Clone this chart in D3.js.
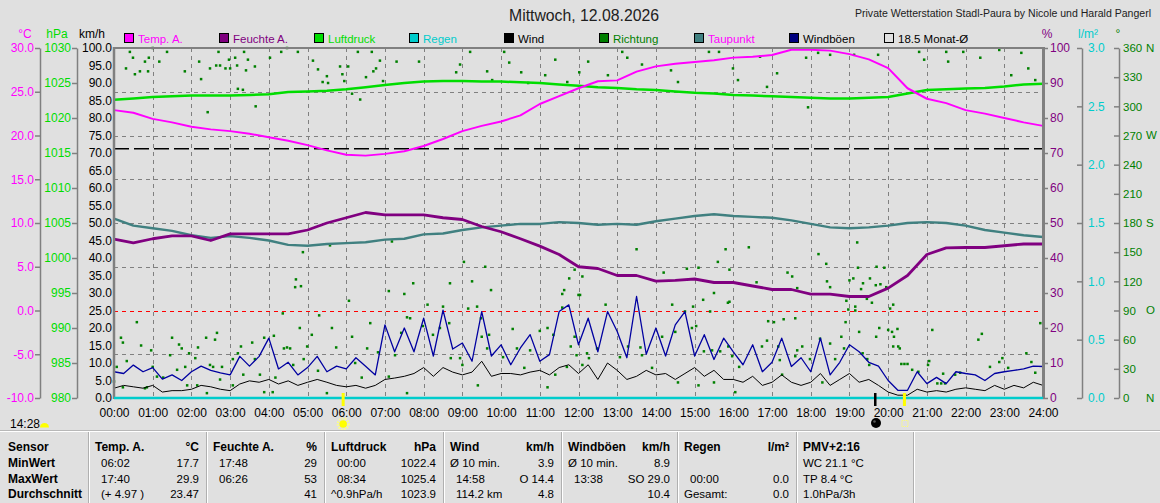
<!DOCTYPE html>
<html>
<head>
<meta charset="utf-8">
<script src="https://cdn.jsdelivr.net/npm/d3@7"></script>
<style>
    body { margin: 0; background: #e0e0e0; }
    svg { display: block; font-family: "Liberation Sans", Arial, sans-serif; }
</style>
</head>
<body>
<div id="chart"></div>
<script>
// ---- data ----
const hoursHalf = d3.range(0, 24.01, 0.5);       // every 30 min
const hoursQuarter = d3.range(0, 24.001, 0.25);  // every 15 min

const temperature = [
    22.9, 22.6, 21.9, 21.5, 21.0, 20.7, 20.5, 20.2, 19.8, 19.4,
    18.9, 18.3, 17.8, 17.7, 17.9, 18.2, 18.8, 19.6, 20.5, 21.1,
    21.6, 22.3, 23.6, 24.5, 25.4, 26.2, 26.3, 27.3, 27.9, 28.2,
    28.4, 28.6, 28.9, 29.0, 29.2, 29.8, 29.8, 29.7, 29.3, 28.7,
    27.7, 25.4, 24.2, 23.7, 22.9, 22.5, 22.0, 21.5, 21.1
];
const humidity = [
    45.4, 44.3, 45.5, 46.3, 46.3, 45.0, 46.9, 46.9, 46.9, 46.9,
    48.0, 50.0, 51.5, 53.0, 52.3, 52.3, 52.3, 51.5, 51.0, 49.0,
    47.5, 45.5, 43.4, 41.0, 37.5, 37.0, 35.0, 35.0, 33.4, 33.6,
    34.0, 33.0, 33.0, 32.0, 31.0, 31.0, 29.7, 29.7, 29.0, 29.0,
    31.4, 35.0, 41.0, 42.9, 43.0, 43.0, 43.5, 44.0, 44.0
];
const pressure = [
    1022.6, 1022.8, 1023.0, 1023.1, 1023.2, 1023.2, 1023.2, 1023.3, 1023.4, 1023.7,
    1023.8, 1023.9, 1024.1, 1024.4, 1024.7, 1025.0, 1025.2, 1025.3, 1025.3, 1025.2,
    1025.2, 1025.1, 1025.0, 1024.8, 1024.6, 1024.4, 1024.3, 1024.1, 1024.0, 1023.8,
    1023.6, 1023.5, 1023.3, 1023.2, 1023.1, 1023.0, 1022.9, 1022.8, 1022.8, 1022.9,
    1023.0, 1023.5, 1024.0, 1024.1, 1024.2, 1024.3, 1024.5, 1024.8, 1024.9
];
const dewpoint = [
    10.5, 9.7, 9.4, 9.1, 8.6, 8.3, 8.5, 8.3, 8.0, 7.5,
    7.4, 7.6, 7.7, 7.8, 8.1, 8.2, 8.7, 8.8, 9.2, 9.5,
    9.7, 9.9, 9.9, 10.1, 10.0, 9.8, 9.9, 9.8, 10.2, 10.5,
    10.8, 11.0, 10.8, 10.7, 10.6, 10.3, 9.9, 9.5, 9.4, 9.5,
    9.7, 10.0, 10.1, 10.0, 9.7, 9.2, 8.9, 8.6, 8.4
];
const wind = [
    2.8, 3.6, 3.2, 2.8,  3.6, 1.7, 2.1, 2.1,  2.5, 3.6, 3.2, 2.5,  2.1, 4.0, 4.9, 4.5,
    5.3, 4.0, 4.9, 3.6,  4.5, 5.3, 4.5, 3.6,  3.2, 3.6, 2.8, 3.6,  5.3, 5.7, 6.2, 7.0,
    8.7, 6.2, 8.7, 7.4,  6.6, 7.4, 10.5, 6.2, 7.0, 7.0, 6.6, 7.4,  7.9, 6.6, 8.7, 9.5,
    7.0, 9.5, 5.3, 10.0, 7.9, 5.3, 6.2, 7.9,  6.6, 7.0, 5.3, 7.0,  8.7, 6.2, 7.9, 5.3,
    5.3, 4.5, 6.2, 3.6,  4.5, 6.6, 4.5, 3.6,  4.5, 7.0, 3.6, 5.3,  7.0, 4.5, 5.3, 3.6,
    1.7, 0.8, 0.8, 2.5,  1.7, 2.1, 1.7, 2.5,  2.9, 2.5, 2.1, 3.6,  2.5, 3.6, 2.9, 4.5,
    3.6
];
const gusts = [
    7.5, 7.0, 9.4, 7.5,  8.7, 5.4, 6.6, 5.0,  7.5, 9.1, 7.9, 7.2,  6.6, 11.9, 9.1, 11.9,
    17.1, 8.3, 10.2, 6.6, 8.7, 11.9, 7.5, 9.1, 8.3, 11.5, 9.1, 6.6, 20.9, 13.2, 20.0, 13.2,
    22.8, 12.0, 25.1, 14.0, 15.7, 10.5, 24.7, 12.0, 15.2, 9.5, 14.3, 18.1, 10.5, 12.4, 24.7, 26.6,
    15.2, 22.8, 13.2, 24.7, 19.0, 11.5, 29.0, 12.5, 20.0, 12.0, 20.9, 24.7, 12.0, 18.1, 11.0, 17.1,
    13.2, 9.5, 15.2, 7.5, 10.2, 17.1, 9.0, 11.5, 7.5, 17.1, 6.6, 10.2, 15.2, 13.2, 10.2, 9.1,
    5.0, 2.2, 2.2, 7.5,  4.1, 5.9, 4.1, 7.5,  7.0, 6.6, 5.0, 7.0,  7.5, 7.9, 8.3, 9.1,
    9.0
];
const rainHours = [0, 6, 12, 18, 24];
const rain = [0.0, 0.0, 0.0, 0.0, 0.0];

// wind direction samples: [hour, degrees]
const direction = [
    [0.41,356],[0.31,339],[0.49,350],[0.54,333],[0.67,336],[0.80,346],[0.90,350],[0.88,336],[1.00,360],[1.17,346],
    [1.37,356],[1.83,336],[2.20,346],[2.25,328],[2.42,294],[2.48,339],[2.64,342],[2.74,342],[2.70,356],[2.88,339],
    [2.97,348],[3.00,339],[3.13,350],[3.18,342],[3.20,318],[3.33,317],[3.36,356],[3.41,337],[3.46,348],[3.66,300],
    [3.64,341],[4.03,350],[4.32,356],[4.47,360],[4.75,356],[5.14,347],[5.27,338],[5.39,325],[5.50,331],[5.53,324],
    [5.84,341],[5.90,333],[5.95,326],[6.05,341],[6.15,313],[6.30,356],[6.36,307],[6.51,330],[6.66,356],[6.70,336],
    [6.77,339],[6.87,347],[6.95,326],[7.30,346],[7.88,346],[8.94,343],[9.20,356],[8.84,335],[9.64,336],[9.77,327],
    [10.08,356],[10.21,345],[10.52,335],[10.70,324],[11.14,332],[11.40,348],[11.71,325],[12.02,335],[12.25,346],[12.76,332],
    [13.13,356],[13.26,350],[13.64,343],[14.39,337],[14.57,325],[15.37,356],[15.63,356],[15.99,339],[16.12,327],[16.69,351],
    [16.87,320],[17.13,334],[17.88,350],[17.93,299],[18.19,355],[18.50,353],[19.12,353],[19.74,353],[20.80,356],[20.93,348],
    [21.50,356],[21.55,346],[21.94,356],[22.38,350],[22.87,358],[23.18,332],[23.44,355],[23.62,339],[23.80,327],
    [4.88,150],[4.70,122],[4.68,114],[4.83,115],[4.36,87],[5.30,85],[5.58,157],[6.07,100],[7.18,161],[7.10,110],
    [7.50,107],[7.73,118],[8.10,96],[8.50,94],[8.68,118],[9.04,140],[9.25,120],[9.48,82],[9.59,135],[9.74,111],
    [11.58,107],[11.63,111],[11.76,123],[11.90,132],[12.10,125],[12.00,106],
    [13.50,153],[15.80,153],[16.40,155],[15.60,140],[18.20,148],[18.40,138],[19.20,160],[14.20,129],[14.80,133],[15.10,134],
    [15.90,132],[17.40,129],[17.52,125],[16.60,119],[18.42,120],[19.00,121],[19.10,123],[19.22,134],[19.53,123],[19.70,135],
    [19.90,134],[19.68,116],[19.80,117],[19.35,118],[19.30,112],[19.95,114],[20.13,96],[20.05,92],[15.50,108],[15.22,101],
    [14.42,96],[15.86,98],[17.65,113],[18.50,114],[18.92,100],[19.45,102],[19.58,98],[19.15,94],[18.97,91],
    [0.18,62],[0.23,57],[0.59,78],[0.70,54],[0.33,38],[0.23,11],[0.07,32],[0.85,11],[0.96,49],[1.00,32],
    [1.50,62],[1.45,44],[1.68,55],[1.75,51],[1.84,32],[1.94,46],[2.17,52],[2.10,41],[2.38,62],[2.61,60],
    [2.66,67],[2.48,34],[2.40,5],[2.79,32],[3.20,46],[3.28,53],[3.07,40],[3.57,57],[3.64,40],[3.88,62],
    [4.13,64],[4.39,51],[4.47,52],[4.55,51],[4.80,72],[4.99,53],[4.90,40],[5.11,65],[5.63,72],[5.74,52],
    [6.15,63],[6.54,51],[6.62,77],[6.82,47],[7.42,67],[7.57,83],[7.65,82],[7.98,74],[8.24,65],[8.42,72],
    [8.66,77],[9.15,92],[9.38,94],[9.50,63],[9.69,65],[9.64,51],[10.05,42],[10.30,71],[10.41,51],[10.75,49],
    [11.00,69],[11.20,72],[11.35,65],[11.58,93],[11.80,53],[11.90,63],[11.95,44],[11.70,32],[11.40,24],[11.20,11],
    [10.60,31],[9.40,13],[9.00,34],[8.70,41],[8.94,41],[7.57,5],[7.10,22],[7.26,44],[6.40,21],[6.23,36],
    [5.50,5],[5.27,28],[4.63,34],[4.17,21],[3.88,6],[4.10,6],[3.77,24],[3.34,24],[3.07,13],[2.74,19],
    [2.56,32],[2.15,13],[1.89,13],[1.63,29],[1.27,21],[1.11,22],[0.80,10],[0.00,17],
    [12.04,106],[12.70,96],[12.27,41],[12.48,51],[12.22,46],[12.10,34],[13.07,42],[13.28,53],[13.60,52],[13.64,44],
    [13.90,31],[14.16,63],[14.50,68],[14.75,89],[14.96,94],[14.93,72],[15.04,74],[15.24,48],[15.40,89],[15.45,49],
    [15.66,48],[15.87,53],[15.90,99],[15.97,43],[16.15,32],[16.05,6],[15.50,16],[15.10,13],[14.57,16],[16.74,53],
    [16.87,59],[17.05,78],[16.90,79],[17.16,53],[17.20,39],[17.26,24],[17.30,81],[17.60,82],[17.60,43],[17.65,49],
    [17.78,53],[17.98,40],[18.24,61],[18.30,16],[18.50,56],[18.63,40],[18.79,63],[18.86,51],[18.90,78],[19.15,90],
    [19.25,68],[19.34,46],[19.46,40],[19.51,34],[19.69,63],[19.77,72],[20.00,70],[20.10,68],[20.15,63],[20.24,71],
    [20.13,53],[20.26,53],[20.30,51],[20.34,35],[20.42,35],[20.50,35],[20.78,27],[20.62,29],[21.03,34],[21.06,38],
    [21.14,70],[21.27,15],[21.37,15],[21.47,15],[21.42,25],[21.73,24],[21.86,26],[22.33,60],[22.42,66],[22.63,32],
    [22.95,41],[22.87,37],[23.10,31],[23.57,46],[23.70,37],[23.93,77],[23.80,26]
];

const monthAverage = 18.5;   // °C
const frostLine = 0;         // °C
const sunrise = 5.92, sunset = 20.42, moonEvent = 19.66;
const dayLength = "14:28";

const legendNames = ["Temp. A.", "Feuchte A.", "Luftdruck", "Regen", "Wind", "Richtung", "Taupunkt", "Windböen", "18.5 Monat-Ø"];
const legendFill = ["#ff00ff", "#800080", "#00dd00", "#00cccc", "#000000", "#008000", "#408080", "#000080", "#e0e0e0"];
const legendText = ["#ff00ff", "#800080", "#00dd00", "#00cccc", "#000000", "#008000", "#ff00ff", "#000000", "#000000"];

const tempTicks = d3.range(-10, 30.1, 5);
const pressureTicks = d3.range(980, 1030.1, 5);
const speedTicks = d3.range(0, 100.1, 5);
const percentTicks = d3.range(0, 100.1, 10);
const rainTicks = [0, 0.5, 1.0, 1.5, 2.0, 2.5, 3.0];
const degreeTicks = d3.range(0, 360.1, 30);
const compass = [[0, "N"], [90, "O"], [180, "S"], [270, "W"], [360, "N"]];

const rowLabels = ["MinWert", "MaxWert", "Durchschnitt"];
const tableHeads = ["Temp. A.", "Feuchte A.", "Luftdruck", "Wind", "Windböen", "Regen", "PMV+2:16"];
const tableUnits = ["°C", "%", "hPa", "km/h", "km/h", "l/m²", ""];
const tableLeft = [
    ["06:02", "17:40", "(+ 4.97 )"],
    ["17:48", "06:26", ""],
    ["00:00", "08:34", "^0.9hPa/h"],
    ["Ø 10 min.", "14:58", "114.2 km"],
    ["Ø 10 min.", "13:38", ""],
    ["", "00:00", "Gesamt:"],
    ["WC 21.1 °C", "TP 8.4 °C", "1.0hPa/3h"]
];
const tableRight = [
    ["17.7", "29.9", "23.47"],
    ["29", "53", "41"],
    ["1022.4", "1025.4", "1023.9"],
    ["3.9", "O 14.4", "4.8"],
    ["8.9", "SO 29.0", "10.4"],
    ["", "0.0", "0.0"],
    ["", "", ""]
];

// ---- layout ----
const WIDTH = 1160, HEIGHT = 503;
const LEFT = 114, RIGHT = 1043, TOP = 48, BOTTOM = 398;
const GRID = "#808080";

const svg = d3.select("#chart").append("svg")
    .attr("width", WIDTH)
    .attr("height", HEIGHT);

svg.append("rect").attr("width", WIDTH).attr("height", HEIGHT).attr("fill", "#e0e0e0");

const x = d3.scaleLinear().domain([0, 24]).range([LEFT, RIGHT]);
const yTemp = d3.scaleLinear().domain([-10, 30]).range([BOTTOM, TOP]);
const yPress = d3.scaleLinear().domain([980, 1030]).range([BOTTOM, TOP]);
const ySpeed = d3.scaleLinear().domain([0, 100]).range([BOTTOM, TOP]);
const yHum = d3.scaleLinear().domain([0, 100]).range([BOTTOM, TOP]);
const yRain = d3.scaleLinear().domain([0, 3]).range([BOTTOM, TOP]);
const yDir = d3.scaleLinear().domain([0, 360]).range([BOTTOM, TOP]);

// ---- titles ----
svg.append("text")
    .attr("x", 509).attr("y", 21)
    .attr("font-size", 16).attr("fill", "#202020")
    .attr("textLength", 150).attr("lengthAdjust", "spacingAndGlyphs")
    .text("Mittwoch, 12.08.2026");

svg.append("text")
    .attr("x", 855).attr("y", 17)
    .attr("font-size", 10).attr("fill", "#202020")
    .attr("textLength", 296).attr("lengthAdjust", "spacingAndGlyphs")
    .text("Private Wetterstation Stadl-Paura by Nicole und Harald Pangerl");

// ---- legend ----
const legend = svg.append("g").attr("font-size", 11.5);
legendNames.forEach((name, i) => {
    const lx = 124 + i * 95;
    legend.append("rect")
        .attr("x", lx + 0.5).attr("y", 33.5)
        .attr("width", 9).attr("height", 9)
        .attr("fill", legendFill[i]).attr("stroke", "#000");
    legend.append("text")
        .attr("x", lx + 14).attr("y", 42.5)
        .attr("fill", legendText[i])
        .text(name);
});

// ---- grid ----
const grid = svg.append("g");
d3.range(1, 24).forEach(h => {
    grid.append("line")
        .attr("x1", Math.round(x(h)) + 0.5).attr("x2", Math.round(x(h)) + 0.5)
        .attr("y1", TOP).attr("y2", BOTTOM)
        .attr("stroke", GRID).attr("stroke-dasharray", "4,4");
});
tempTicks.filter(t => t > -10 && t < 30).forEach(t => {
    grid.append("line")
        .attr("x1", LEFT).attr("x2", RIGHT)
        .attr("y1", Math.round(yTemp(t)) + 0.5).attr("y2", Math.round(yTemp(t)) + 0.5)
        .attr("stroke", t === frostLine ? "#ff0000" : GRID)
        .attr("stroke-dasharray", "4,4");
});
grid.append("line")
    .attr("x1", LEFT).attr("x2", RIGHT)
    .attr("y1", yTemp(monthAverage)).attr("y2", yTemp(monthAverage))
    .attr("stroke", "#000").attr("stroke-width", 1.5)
    .attr("stroke-dasharray", "15,5");

// ---- wind direction dots ----
svg.append("g").selectAll("rect")
    .data(direction)
    .enter()
    .append("rect")
    .attr("x", d => x(d[0]) - 1.25)
    .attr("y", d => yDir(d[1]) - 1.25)
    .attr("width", 2.5).attr("height", 2.5)
    .attr("fill", "#008000");

// ---- series ----
function drawLine(values, times, yScale, color, width, curve) {
    const line = d3.line()
        .x((d, i) => x(times[i]))
        .y(d => yScale(d))
        .curve(curve || d3.curveLinear);
    svg.append("path")
        .datum(values)
        .attr("d", line)
        .attr("fill", "none")
        .attr("stroke", color)
        .attr("stroke-width", width)
        .attr("stroke-linejoin", "round");
}

drawLine(wind, hoursQuarter, ySpeed, "#000000", 1);
drawLine(gusts, hoursQuarter, ySpeed, "#0000a0", 1.3);
drawLine(dewpoint, hoursHalf, yTemp, "#408080", 2.5);
drawLine(humidity, hoursHalf, yHum, "#800080", 2.8);
drawLine(pressure, hoursHalf, yPress, "#00dd00", 2.5);
drawLine(temperature, hoursHalf, yTemp, "#ff00ff", 2);

// ---- frame ----
svg.append("line").attr("x1", LEFT).attr("x2", RIGHT).attr("y1", TOP).attr("y2", TOP)
    .attr("stroke", GRID).attr("stroke-width", 2);
svg.append("line").attr("x1", LEFT).attr("x2", LEFT).attr("y1", TOP - 1).attr("y2", BOTTOM + 1)
    .attr("stroke", GRID).attr("stroke-width", 2.5);
svg.append("line").attr("x1", RIGHT + 0.5).attr("x2", RIGHT + 0.5).attr("y1", TOP - 1).attr("y2", BOTTOM + 1)
    .attr("stroke", GRID).attr("stroke-width", 3);
svg.append("line").attr("x1", LEFT).attr("x2", RIGHT).attr("y1", BOTTOM).attr("y2", BOTTOM)
    .attr("stroke", GRID).attr("stroke-width", 1);

drawLine(rain, rainHours, yRain, "#00cccc", 2.5);

// ---- axes ----
function styleAxis(g, color) {
    g.attr("font-family", null).attr("font-size", 12);
    g.selectAll("path.domain").attr("stroke", GRID).attr("stroke-width", 1.5);
    g.selectAll(".tick line").attr("stroke", GRID).attr("stroke-width", 1.5);
    g.selectAll("text").attr("fill", color);
}

const fixed1 = d => d.toFixed(1);

svg.append("g").attr("transform", "translate(40,0)")
    .call(d3.axisLeft(yTemp).tickValues(tempTicks).tickFormat(fixed1).tickSize(5).tickSizeOuter(0).tickPadding(1))
    .call(g => styleAxis(g, "#ff00ff"));

svg.append("g").attr("transform", "translate(77,0)")
    .call(d3.axisLeft(yPress).tickValues(pressureTicks).tickFormat(d3.format("d")).tickSize(5).tickSizeOuter(0).tickPadding(1))
    .call(g => styleAxis(g, "#00dd00"));

svg.append("g").attr("transform", `translate(${LEFT},0)`)
    .call(d3.axisLeft(ySpeed).tickValues(speedTicks).tickFormat(fixed1).tickSize(0).tickPadding(2))
    .call(g => styleAxis(g, "#000000"))
    .call(g => g.select(".domain").remove());

svg.append("g").attr("transform", `translate(${RIGHT},0)`)
    .call(d3.axisRight(yHum).tickValues(percentTicks).tickFormat(d3.format("d")).tickSize(5).tickSizeOuter(0).tickPadding(2))
    .call(g => styleAxis(g, "#800080"))
    .call(g => g.select(".domain").remove());

svg.append("g").attr("transform", "translate(1082,0)")
    .call(d3.axisRight(yRain).tickValues(rainTicks).tickFormat(fixed1).tickSize(-5).tickSizeOuter(0).tickPadding(6))
    .call(g => styleAxis(g, "#00cccc"));

svg.append("g").attr("transform", "translate(1119,0)")
    .call(d3.axisRight(yDir).tickValues(degreeTicks).tickFormat(d3.format("d")).tickSize(-5).tickSizeOuter(0).tickPadding(4))
    .call(g => styleAxis(g, "#008000"))
    .call(g => g.selectAll("text").attr("font-size", 11.5));

svg.append("g").attr("font-size", 11.5).attr("fill", "#008000")
    .selectAll("text").data(compass).enter().append("text")
    .attr("x", 1146).attr("y", d => yDir(d[0])).attr("dy", "0.32em")
    .text(d => d[1]);

svg.append("g").attr("transform", `translate(0,${BOTTOM})`)
    .call(d3.axisBottom(x).tickValues(d3.range(0, 25)).tickFormat(h => String(h).padStart(2, "0") + ":00").tickSize(0).tickPadding(10))
    .call(g => styleAxis(g, "#000000"))
    .call(g => g.select(".domain").remove());

// axis titles
const axisTitles = [[25, "°C", "#ff00ff"], [57, "hPa", "#00dd00"], [92, "km/h", "#000000"],
                    [1047, "%", "#800080"], [1088, "l/m²", "#00cccc"], [1118, "°", "#008000"]];
svg.append("g").attr("font-size", 12).attr("text-anchor", "middle")
    .selectAll("text").data(axisTitles).enter().append("text")
    .attr("x", d => d[0]).attr("y", 38)
    .attr("fill", d => d[2])
    .text(d => d[1]);

// ---- sun / moon markers ----
const marks = svg.append("g");
marks.append("rect").attr("x", x(sunrise) - 1.5).attr("y", 393).attr("width", 3).attr("height", 13).attr("fill", "#ffff00");
marks.append("rect").attr("x", x(sunset) - 1.5).attr("y", 393).attr("width", 3).attr("height", 13).attr("fill", "#ffff00");
marks.append("rect").attr("x", x(moonEvent) - 1).attr("y", 393).attr("width", 2.5).attr("height", 13).attr("fill", "#000");

marks.append("circle").attr("cx", x(sunrise)).attr("cy", 424).attr("r", 5.5)
    .attr("fill", "none").attr("stroke", "#ffff80").attr("stroke-width", 2).attr("stroke-dasharray", "1.5,1.5");
marks.append("circle").attr("cx", x(sunrise)).attr("cy", 424).attr("r", 3.8).attr("fill", "#ffff00");
marks.append("circle").attr("cx", x(moonEvent) + 1).attr("cy", 423).attr("r", 5).attr("fill", "#000");
marks.append("circle").attr("cx", x(moonEvent) - 0.5).attr("cy", 421.5).attr("r", 1.3).attr("fill", "#555");
marks.append("rect").attr("x", x(sunset) - 2.5).attr("y", 420.5).attr("width", 6).attr("height", 6)
    .attr("fill", "none").attr("stroke", "#ffff70").attr("stroke-width", 1.2).attr("stroke-dasharray", "1,1");

marks.append("text").attr("x", 10).attr("y", 428).attr("font-size", 12).attr("fill", "#000").text(dayLength);
marks.append("path")
    .attr("d", d3.arc()({ innerRadius: 0, outerRadius: 4.5, startAngle: -Math.PI / 2, endAngle: Math.PI / 2 }))
    .attr("transform", "translate(44.5,427.5)")
    .attr("fill", "#ffff00");

// ---- statistics table ----
const table = svg.append("g");
const seps = [88, 206, 324, 443, 561, 677, 796, 913];
table.append("line").attr("x1", 0).attr("x2", WIDTH).attr("y1", 430.5).attr("y2", 430.5).attr("stroke", "#b8b8b8");
table.append("line").attr("x1", 0).attr("x2", WIDTH).attr("y1", 431.5).attr("y2", 431.5).attr("stroke", "#ffffff");
seps.forEach(sx => {
    table.append("line").attr("x1", sx + 0.5).attr("x2", sx + 0.5).attr("y1", 432).attr("y2", HEIGHT).attr("stroke", "#b0b0b0");
    table.append("line").attr("x1", sx + 1.5).attr("x2", sx + 1.5).attr("y1", 432).attr("y2", HEIGHT).attr("stroke", "#ffffff");
});

const headY = 451, rowY = [467, 483, 498];
table.append("text").attr("x", 8).attr("y", headY).attr("font-size", 12).attr("font-weight", "bold").text("Sensor");
rowLabels.forEach((r, i) => {
    table.append("text").attr("x", 8).attr("y", rowY[i]).attr("font-size", 12).attr("font-weight", "bold").text(r);
});

tableHeads.forEach((head, c) => {
    const x0 = seps[c] + 1, x1 = seps[c + 1] - 7;
    table.append("text").attr("x", x0 + 6).attr("y", headY)
        .attr("font-size", 12).attr("font-weight", "bold").text(head);
    table.append("text").attr("x", x1).attr("y", headY).attr("text-anchor", "end")
        .attr("font-size", 12).attr("font-weight", "bold").text(tableUnits[c]);
    tableLeft[c].forEach((val, r) => {
        const indent = /^\d\d:\d\d$|^\(|km$/.test(val) ? 12 : 6;
        table.append("text").attr("x", x0 + indent).attr("y", rowY[r])
            .attr("font-size", 11.5).text(val);
    });
    tableRight[c].forEach((val, r) => {
        table.append("text").attr("x", x1).attr("y", rowY[r]).attr("text-anchor", "end")
            .attr("font-size", 11.5).text(val);
    });
});
</script>
</body>
</html>
